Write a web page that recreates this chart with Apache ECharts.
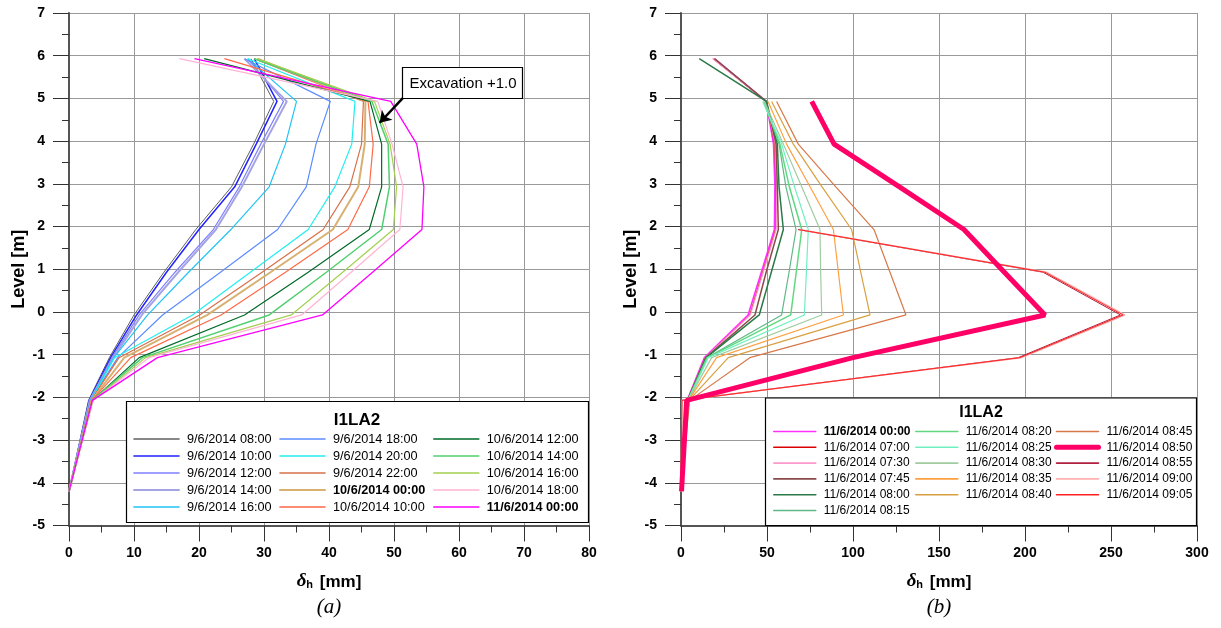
<!DOCTYPE html>
<html><head><meta charset="utf-8">
<script src="https://cdn.jsdelivr.net/npm/echarts@6/dist/echarts.min.js"></script>
<style>html,body{margin:0;padding:0;background:#fff}#c{width:1221px;height:628px}</style>
</head><body><div id="c"></div>
<script>
// ---------- DATA ----------
const levels = [5.93, 4.93, 3.93, 2.93, 1.93, 0.93, -0.07, -1.07, -2.07, -4.2];
const yTicks = [-5, -4, -3, -2, -1, 0, 1, 2, 3, 4, 5, 6, 7];
const xTicksA = [0, 10, 20, 30, 40, 50, 60, 70, 80];
const xTicksB = [0, 50, 100, 150, 200, 250, 300];
const legendTitle = 'I1LA2';
const annotText = 'Excavation +1.0';
const annotArrow = [[51.5, 5.03], [47.8, 4.43]];

// (a) readings, horizontal displacement [mm] at each level
const namesA = ['9/6/2014 08:00','9/6/2014 10:00','9/6/2014 12:00','9/6/2014 14:00','9/6/2014 16:00',
  '9/6/2014 18:00','9/6/2014 20:00','9/6/2014 22:00','10/6/2014 00:00','10/6/2014 10:00',
  '10/6/2014 12:00','10/6/2014 14:00','10/6/2014 16:00','10/6/2014 18:00','11/6/2014 00:00'];
const boldA = ['10/6/2014 00:00', '11/6/2014 00:00'];
const a0906_0800 = [28.0, 31.5, 28.4, 25.0, 19.5, 14.6, 10.0, 6.2, 3.0, 0];
const a0906_1000 = [28.5, 32.0, 28.8, 25.5, 20.0, 15.0, 10.4, 6.4, 3.1, 0];
const a0906_1200 = [27.5, 33.0, 29.5, 26.2, 22.2, 16.3, 10.8, 6.6, 3.2, 0];
const a0906_1400 = [27.0, 33.5, 30.0, 26.6, 22.6, 16.8, 11.2, 6.8, 3.2, 0];
const a0906_1600 = [27.5, 35.0, 33.3, 30.8, 24.9, 18.4, 12.1, 6.9, 3.3, 0];
const a0906_1800 = [27.0, 40.2, 38.0, 36.5, 32.1, 23.3, 14.4, 7.5, 3.3, 0];
const a0906_2000 = [27.5, 44.0, 43.5, 40.9, 36.8, 27.9, 19.0, 7.0, 3.4, 0];
const a0906_2200 = [28.5, 45.3, 45.0, 43.2, 39.1, 29.7, 20.1, 7.7, 3.4, 0];
const a1006_0000 = [29.0, 45.6, 45.5, 44.5, 40.6, 31.0, 21.3, 8.5, 3.5, 0];
const a1006_1000 = [23.9, 46.0, 46.8, 46.2, 42.9, 33.3, 23.4, 9.5, 3.5, 0];
const a1006_1200 = [20.8, 46.3, 48.1, 48.1, 46.2, 36.8, 27.0, 10.8, 3.6, 0];
const a1006_1400 = [28.5, 46.6, 49.1, 49.3, 48.1, 39.6, 30.8, 11.3, 3.6, 0];
const a1006_1600 = [29.0, 47.0, 49.4, 50.4, 49.9, 42.1, 34.2, 11.8, 3.7, 0];
const a1006_1800 = [17.0, 47.5, 49.7, 51.4, 50.9, 43.4, 35.8, 12.3, 3.7, 0];
const a1106_0000 = [19.3, 49.5, 53.5, 54.6, 54.3, 46.7, 39.0, 13.6, 3.6, 0];
const valuesA = [a0906_0800,a0906_1000,a0906_1200,a0906_1400,a0906_1600,a0906_1800,a0906_2000,
  a0906_2200,a1006_0000,a1006_1000,a1006_1200,a1006_1400,a1006_1600,a1006_1800,a1106_0000];

// (b) readings
const namesB = ['11/6/2014 00:00 ','11/6/2014 07:00','11/6/2014 07:30','11/6/2014 07:45','11/6/2014 08:00',
  '11/6/2014 08:15','11/6/2014 08:20','11/6/2014 08:25','11/6/2014 08:30','11/6/2014 08:35',
  '11/6/2014 08:40','11/6/2014 08:45','11/6/2014 08:50','11/6/2014 08:55','11/6/2014 09:00','11/6/2014 09:05'];
const boldB = ['11/6/2014 00:00 '];
const b1106_0000 = [19.3, 49.5, 53.8, 54.6, 54.3, 46.7, 39.0, 13.6, 3.6, 0];
const b1106_0700 = [18.5, 49.5, 54.5, 55.2, 55.0, 47.5, 40.0, 14.0, 3.7, 0];
const b1106_0730 = [18.5, 49.5, 54.8, 55.5, 55.3, 47.8, 40.3, 14.1, 3.7, 0];
const b1106_0745 = [19.5, 49.6, 55.3, 56.0, 56.6, 49.5, 43.0, 14.4, 3.8, 0];
const b1106_0800 = [10.6, 49.7, 56.0, 57.0, 59.5, 52.5, 45.5, 14.6, 3.9, 0];
const b1106_0815 = [null, 48.5, 57.0, 61.0, 66.9, 62.8, 58.5, 15.0, 4.0, 0];
const b1106_0820 = [null, 48.0, 57.5, 63.0, 70.2, 67.0, 63.8, 15.3, 4.0, 0];
const b1106_0825 = [null, 47.5, 58.5, 66.0, 74.0, 72.9, 71.7, 15.8, 4.1, 0];
const b1106_0830 = [null, 48.5, 59.5, 70.2, 80.8, 81.2, 81.8, 17.8, 4.2, 0];
const b1106_0835 = [null, 50.6, 61.4, 75.0, 88.6, 91.5, 94.4, 20.7, 4.4, 0];
const b1106_0840 = [null, 52.7, 65.3, 82.0, 99.2, 104.5, 109.9, 27.5, 4.6, 0];
const b1106_0845 = [null, 55.6, 68.2, 90.0, 112.2, 121.5, 130.8, 40.0, 5.0, 0];
const b1106_0850 = [null, 76.0, 89.0, 127.0, 164.5, 188.0, 211.6, 100.0, 3.3, 0.3];
const b1106_0855 = [null, null, null, null, 68.0, 210.5, 255.5, 196.0, 0.5, 0];
const b1106_0900 = [null, null, null, null, 68.6, 212.5, 258.0, 198.0, 0.5, 0];
const b1106_0905 = [null, null, null, null, 68.4, 211.6, 257.0, 197.0, 0.5, 0];
const valuesB = [b1106_0000,b1106_0700,b1106_0730,b1106_0745,b1106_0800,b1106_0815,b1106_0820,
  b1106_0825,b1106_0830,b1106_0835,b1106_0840,b1106_0845,b1106_0850,b1106_0855,b1106_0900,b1106_0905];

// ---------- STYLE ----------
const colorsA = ['#606060','#2222ff','#8080ff','#a4a4e4','#22c4f4','#5c8cff','#22eef0','#d8704a',
  '#d8b070','#ff6a48','#006a28','#50d070','#a4d050','#ffb4d4','#ff00ff'];
const widthsA = [1,1.5,1.2,2,1.2,1.2,1.2,1.2,2,1.2,1.2,1.5,1.2,1.2,1.3];
const colorsB = ['#ff30ff','#dd0000','#ff99cc','#8a4a4a','#2a7a48','#60b888','#60d880','#70f0c0',
  '#a0cca0','#ffa040','#d8a040','#d87848','#ff0066','#b02040','#ffb0b0','#ff2020'];
const widthsB = [1.6,1,1.2,1.5,1.5,1.2,1.5,1.2,1.2,1.2,1.2,1.2,5,1,1.5,1];

const FONT = "'Liberation Sans', Arial, sans-serif";

function pts(vals) {
  const out = [];
  vals.forEach((v, i) => { if (v !== null) out.push([v, levels[i]]); });
  return out;
}

const series = [];
valuesA.forEach((vals, i) => {
  const s = {
    type: 'line', name: namesA[i], xAxisIndex: 0, yAxisIndex: 0,
    data: pts(vals), symbol: 'none', showSymbol: false, animation: false,
    lineStyle: { color: colorsA[i], width: widthsA[i] },
    itemStyle: { color: colorsA[i] }, z: 2
  };
  if (i === 0) {
    s.markLine = {
      silent: true, animation: false, symbol: ['none', 'arrow'], symbolSize: 11,
      lineStyle: { color: '#000', width: 2.5, type: 'solid' },
      label: { show: false },
      data: [[{ coord: annotArrow[0] }, { coord: annotArrow[1] }]]
    };
  }
  series.push(s);
});
valuesB.forEach((vals, i) => {
  series.push({
    type: 'line', name: namesB[i], xAxisIndex: 1, yAxisIndex: 1,
    data: pts(vals), symbol: 'none', showSymbol: false, animation: false,
    lineStyle: { color: colorsB[i], width: widthsB[i] },
    itemStyle: { color: colorsB[i] }, z: i === 12 ? 3 : 2
  });
});

function xAxis(ticks, gridIndex) {
  return {
    type: 'value', gridIndex, min: ticks[0], max: ticks[ticks.length - 1], interval: ticks[1] - ticks[0],
    name: '{d|δ}{h|h}{t| [mm]}', nameLocation: 'middle', nameGap: 46,
    nameTextStyle: { color: '#000', fontFamily: FONT, fontWeight: 'bold', fontSize: 17,
      rich: {
        d: { fontFamily: "'Liberation Serif', serif", fontStyle: 'italic', fontSize: 19, color: '#000', verticalAlign: 'bottom' },
        h: { fontFamily: FONT, fontWeight: 'bold', fontSize: 11, color: '#000', verticalAlign: 'bottom', padding: [0, 2, 0, 0] },
        t: { fontFamily: FONT, fontWeight: 'bold', fontSize: 17, color: '#000', verticalAlign: 'bottom' }
      } },
    axisLine: { show: true, onZero: false, lineStyle: { color: '#555', width: 2 } },
    axisTick: { show: true, length: 16, lineStyle: { color: '#333', width: 1 } },
    minorTick: { show: true, splitNumber: 2, length: 7, lineStyle: { color: '#333', width: 1 } },
    axisLabel: { margin: 21, color: '#000', fontFamily: FONT, fontWeight: 'bold', fontSize: 14 },
    splitLine: { show: true, lineStyle: { color: '#999', width: 1 } }
  };
}
function yAxis(gridIndex) {
  return {
    type: 'value', gridIndex, min: yTicks[0], max: yTicks[yTicks.length - 1], interval: yTicks[1] - yTicks[0],
    name: 'Level [m]', nameLocation: 'middle', nameGap: 41,
    nameTextStyle: { color: '#000', fontFamily: FONT, fontWeight: 'bold', fontSize: 18 },
    axisLine: { show: true, onZero: false, lineStyle: { color: '#555', width: 2 } },
    axisTick: { show: true, length: 16, lineStyle: { color: '#333', width: 1 } },
    minorTick: { show: true, splitNumber: 2, length: 7, lineStyle: { color: '#333', width: 1 } },
    axisLabel: { margin: 24, color: '#000', fontFamily: FONT, fontWeight: 'bold', fontSize: 14 },
    splitLine: { show: true, lineStyle: { color: '#999', width: 1 } }
  };
}

function legendCol(names, allNames, widths, colors, bolds, left, top, itemW, itemH, gap, fontSize) {
  return {
    orient: 'vertical', left, top, padding: 0, itemWidth: itemW, itemHeight: itemH, itemGap: gap,
    selectedMode: false, z: 20,
    itemStyle: { opacity: 0, borderWidth: 0 },
    textStyle: { fontFamily: FONT, fontSize, color: '#000', lineHeight: itemH, padding: [0, 0, 0, 3] },
    data: names.map(n => {
      const k = allNames.indexOf(n);
      const item = { name: n, lineStyle: { color: colors[k], width: Math.max(widths[k], 1.6), cap: 'round' } };
      if (bolds.includes(n)) item.textStyle = { fontWeight: 'bold' };
      return item;
    })
  };
}

const legends = [
  legendCol(namesA.slice(0, 5), namesA, widthsA, colorsA, boldA, 133, 432, 45, 14, 3, 12.7),
  legendCol(namesA.slice(5, 10), namesA, widthsA, colorsA, boldA, 279, 432, 45, 14, 3, 12.7),
  legendCol(namesA.slice(10, 15), namesA, widthsA, colorsA, boldA, 433, 432, 45, 14, 3, 12.7),
  legendCol(namesB.slice(0, 6), namesB, widthsB, colorsB, boldB, 773, 425.5, 42, 12, 3.8, 12),
  legendCol(namesB.slice(6, 11), namesB, widthsB, colorsB, boldB, 915, 425.5, 42, 12, 3.8, 12),
  legendCol(namesB.slice(11, 16), namesB, widthsB, colorsB, boldB, 1054, 425.5, 42, 12, 3.8, 12)
];

const option = {
  backgroundColor: '#fff',
  animation: false,
  grid: [
    { left: 69, top: 13, width: 520, height: 512.5, containLabel: false },
    { left: 681, top: 13, width: 516, height: 512.5, containLabel: false }
  ],
  xAxis: [xAxis(xTicksA, 0), xAxis(xTicksB, 1)],
  yAxis: [yAxis(0), yAxis(1)],
  legend: legends,
  series,
  graphic: [
    { type: 'rect', z: 10, shape: { x: 126.5, y: 401.5, width: 462, height: 121 },
      style: { fill: '#fff', stroke: '#000', lineWidth: 1.2 } },
    { type: 'text', z: 21, x: 357, y: 420,
      style: { text: legendTitle, font: "bold 17px 'Liberation Sans', Arial", fill: '#000', align: 'center', verticalAlign: 'middle' } },
    { type: 'rect', z: 10, shape: { x: 765.5, y: 398, width: 431, height: 127.5 },
      style: { fill: '#fff', stroke: '#000', lineWidth: 1.2 } },
    { type: 'text', z: 21, x: 981, y: 413,
      style: { text: legendTitle, font: "bold 16px 'Liberation Sans', Arial", fill: '#000', align: 'center', verticalAlign: 'middle' } },
    { type: 'rect', z: 10, shape: { x: 402.5, y: 67.5, width: 120, height: 31 },
      style: { fill: '#fff', stroke: '#000', lineWidth: 1.2 } },
    { type: 'text', z: 21, x: 463, y: 84,
      style: { text: annotText, font: "15px 'Liberation Sans', Arial", fill: '#000', align: 'center', verticalAlign: 'middle' } },
    { type: 'text', z: 21, x: 329, y: 607,
      style: { text: '(a)', font: "italic 21px 'Liberation Serif', 'Times New Roman', serif", fill: '#000', align: 'center', verticalAlign: 'middle' } },
    { type: 'text', z: 21, x: 939, y: 607,
      style: { text: '(b)', font: "italic 21px 'Liberation Serif', 'Times New Roman', serif", fill: '#000', align: 'center', verticalAlign: 'middle' } }
  ]
};

const chart = echarts.init(document.getElementById('c'), null, { renderer: 'canvas' });
chart.setOption(option);
</script>
</body></html>
